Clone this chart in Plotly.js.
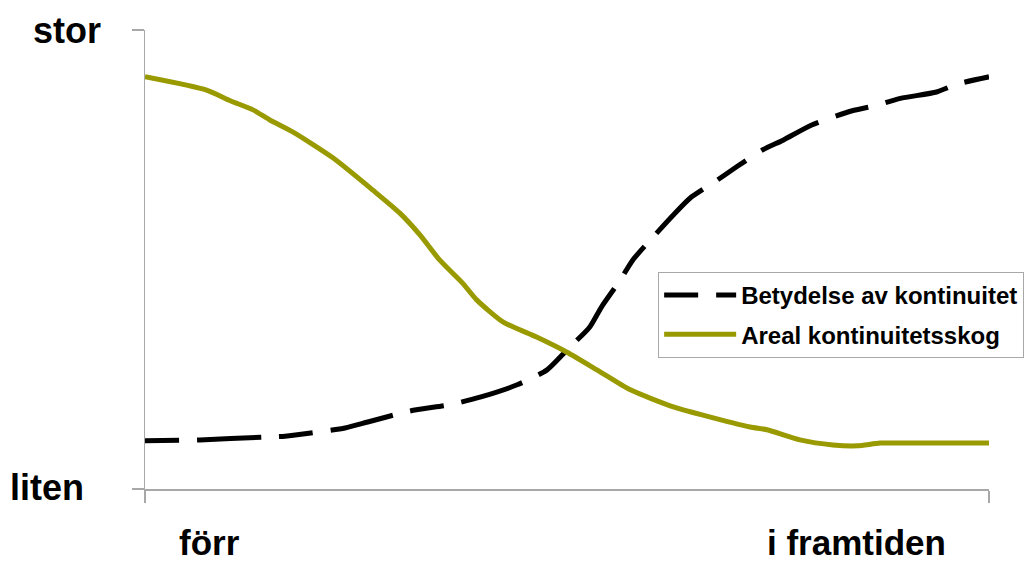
<!DOCTYPE html>
<html>
<head>
<meta charset="utf-8">
<script src="https://cdn.plot.ly/plotly-3.0.1.min.js"></script>
<style>
  html, body { margin: 0; padding: 0; background: #fff; }
  #chart { width: 1036px; height: 563px; }
</style>
</head>
<body>
<div id="chart"></div>
<script>
// Time runs from "förr" (0) to "i framtiden" (100); size from "liten" (0) to "stor" (100).
const betydelseX = [0, 6.5, 14.0, 16.6, 23.7, 26.4, 31.4, 36.5, 39.7, 44.1, 47.6, 50.0, 52.7, 54.1, 56.3,
  57.8, 60.2, 62.6, 64.6, 67.8, 70.1, 73.2, 75.6, 79.0, 83.8, 86.3, 89.5, 93.8, 96.2, 100];
const betydelseY = [10.5, 10.7, 11.3, 11.5, 13.3, 14.6, 17.0, 18.5, 20.0, 22.7, 25.9, 30.3, 35.3, 39.7, 45.5,
  49.9, 54.9, 59.7, 63.4, 67.3, 70.2, 73.9, 76.0, 79.3, 82.4, 83.4, 85.1, 86.5, 88.2, 89.8];

const arealX = [0, 7.3, 10.1, 12.8, 14.8, 17.5, 22.3, 27.0, 30.2, 32.6, 34.9, 37.6, 39.3, 42.4, 46.4,
  50.0, 53.6, 57.5, 62.6, 66.1, 71.7, 73.7, 77.6, 81.5, 84.4, 87.1, 90.6, 95.3, 100];
const arealY = [89.8, 86.9, 84.6, 82.6, 80.4, 77.8, 72.1, 65.1, 60.1, 55.3, 49.9, 44.9, 41.2, 36.4, 33.1,
  29.8, 25.9, 21.6, 17.9, 16.1, 13.5, 12.9, 10.7, 9.6, 9.4, 10.0, 10.0, 10.0, 10.0];

const seriesNames = ['Betydelse av kontinuitet', 'Areal kontinuitetsskog'];
const yLabels = ['liten', 'stor'];
const xLabels = ['förr', 'i framtiden'];

const axisGray = '#a8a8a8';
const labelFont = { family: 'Liberation Sans, Arial, sans-serif', size: 36, color: '#000' };
const bottomFont = { family: 'Liberation Sans, Arial, sans-serif', size: 35, color: '#000' };

const traces = [
  {
    x: betydelseX, y: betydelseY, name: seriesNames[0], legendgroup: 'a', type: 'scatter', mode: 'lines',
    line: { color: '#000000', width: 5, dash: '34px,18px,64px,18px', shape: 'spline', smoothing: 0.6 }
  },
  {
    x: arealX, y: arealY, name: seriesNames[1], legendgroup: 'b', type: 'scatter', mode: 'lines',
    line: { color: '#999900', width: 5, shape: 'spline', smoothing: 0.6 }
  }
];

const layout = {
  width: 1036, height: 563,
  margin: { l: 145, r: 47, t: 30, b: 74 },
  paper_bgcolor: '#ffffff', plot_bgcolor: '#ffffff',
  showlegend: true,
  legend: {
    x: 0.608, y: 0.473, xanchor: 'left', yanchor: 'top',
    bordercolor: axisGray, borderwidth: 1, bgcolor: '#ffffff',
    font: { family: 'Liberation Sans, Arial, sans-serif', size: 24, color: '#000', weight: 'bold' },
    itemwidth: 72, traceorder: 'grouped', tracegroupgap: 5
  },
  xaxis: {
    range: [0, 100], showgrid: false, zeroline: false, showticklabels: false,
    showline: true, linecolor: axisGray, linewidth: 1.5,
    ticks: 'outside', tickvals: [0, 100], ticklen: 12, tickcolor: axisGray, tickwidth: 1.5
  },
  yaxis: {
    range: [0, 100], showgrid: false, zeroline: false, showticklabels: false,
    showline: true, linecolor: axisGray, linewidth: 1.5,
    ticks: 'outside', tickvals: [0, 100], ticklen: 12, tickcolor: axisGray, tickwidth: 1.5
  },
  annotations: [
    { text: '<b>' + yLabels[1] + '</b>', xref: 'paper', yref: 'paper', x: -0.0924, y: 1.0,
      xanchor: 'center', yanchor: 'middle', showarrow: false, font: labelFont },
    { text: '<b>' + yLabels[0] + '</b>', xref: 'paper', yref: 'paper', x: -0.116, y: 0.003,
      xanchor: 'center', yanchor: 'middle', showarrow: false, font: labelFont },
    { text: '<b>' + xLabels[0] + '</b>', xref: 'paper', yref: 'paper', x: 0.077, y: -0.1155,
      xanchor: 'center', yanchor: 'middle', showarrow: false, font: bottomFont, borderpad: 0 },
    { text: '<b>' + xLabels[1] + '</b>', xref: 'paper', yref: 'paper', x: 0.843, y: -0.1155,
      xanchor: 'center', yanchor: 'middle', showarrow: false, font: bottomFont, borderpad: 0 }
  ]
};

Plotly.newPlot('chart', traces, layout, { staticPlot: true, displayModeBar: false });
</script>
</body>
</html>
